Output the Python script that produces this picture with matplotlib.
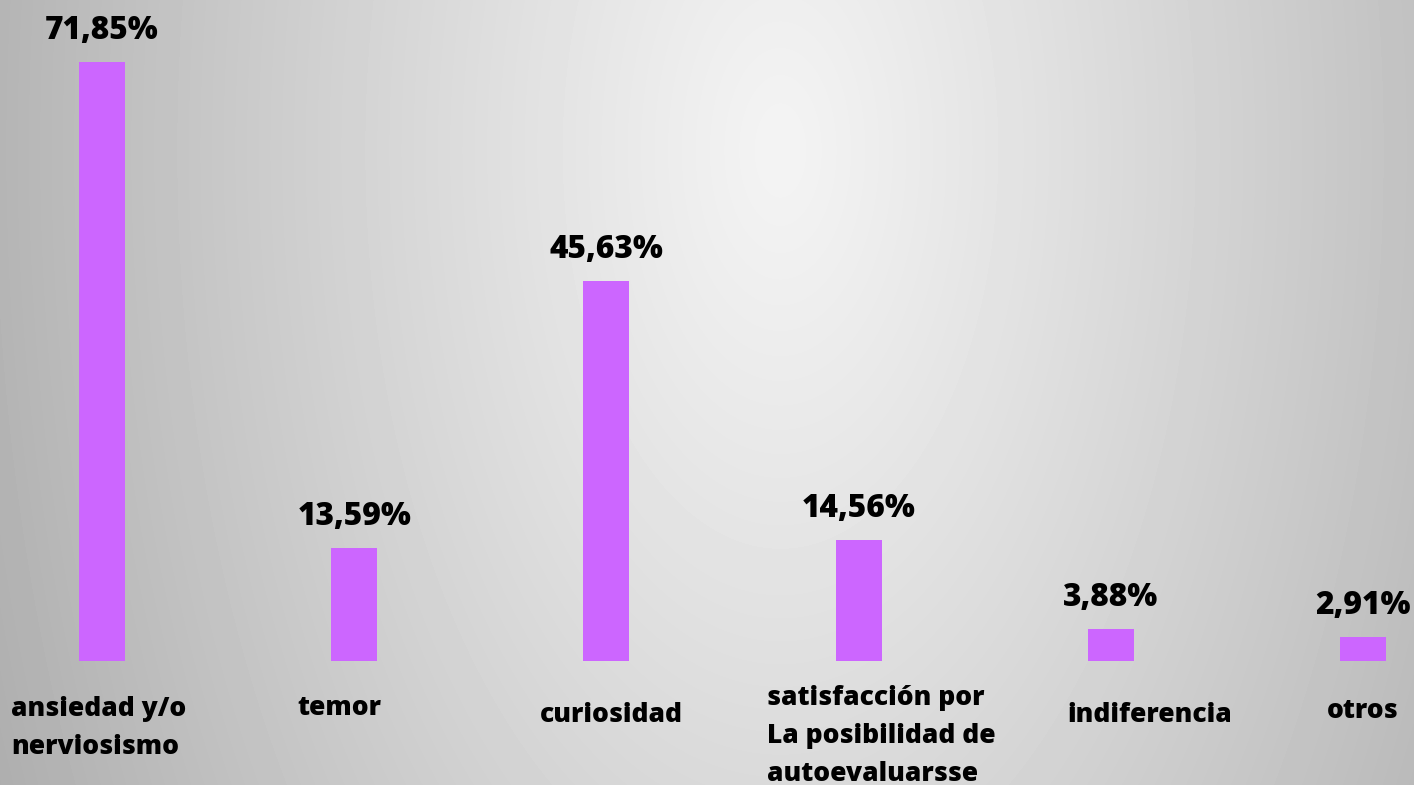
import numpy as np
import matplotlib.pyplot as plt

categories = ['ansiedad y/o\nnerviosismo', 'temor', 'curiosidad',
              'satisfacción por\nLa posibilidad de\nautoevaluarsse',
              'indiferencia', 'otros']
values = [71.85, 13.59, 45.63, 14.56, 3.88, 2.91]
value_labels = ['71,85%', '13,59%', '45,63%', '14,56%', '3,88%', '2,91%']

# label placement tweaks (x shift in bar units, y in data units)
lab_dx = [-0.012, -0.06, 0.02, 0.09, 0.155, 0.0]
lab_y = [-8.0, -5.6, -6.5, -9.0, -6.5, -6.0]

W, H = 1414, 785
x0, x1 = -0.4045, 5.202
y0, y1 = -14.87, 79.29

fig = plt.figure(figsize=(W / 100, H / 100), dpi=100)
ax = fig.add_axes([0, 0, 1, 1])

# radial grey background
yy, xx = np.mgrid[0:H, 0:W]
r = np.sqrt(((xx - 780) / 820.0) ** 2 + ((yy - 150) / 1500.0) ** 2)
bg = np.clip(0.955 - 0.26 * r ** 1.1, 0, 1)
ax.imshow(bg, cmap='gray', vmin=0, vmax=1, extent=[x0, x1, y0, y1],
          origin='upper', aspect='auto', zorder=0, interpolation='bilinear')

x = np.arange(len(values))
ax.bar(x, values, width=0.182, color='#CC66FF', zorder=2)

font = ['Open Sans', 'DejaVu Sans']
for i, v in enumerate(values):
    ax.text(x[i], v + 3.7, value_labels[i], ha='center', va='center',
            fontsize=22.8, fontweight='heavy', family=font)
    ax.text(x[i] + lab_dx[i], lab_y[i], categories[i], ha='center', va='center',
            multialignment='left', fontsize=19, fontweight='heavy', family=font,
            linespacing=1.6)

ax.set_xlim(x0, x1)
ax.set_ylim(y0, y1)
ax.axis('off')

fig.savefig('out.png', dpi=100)
